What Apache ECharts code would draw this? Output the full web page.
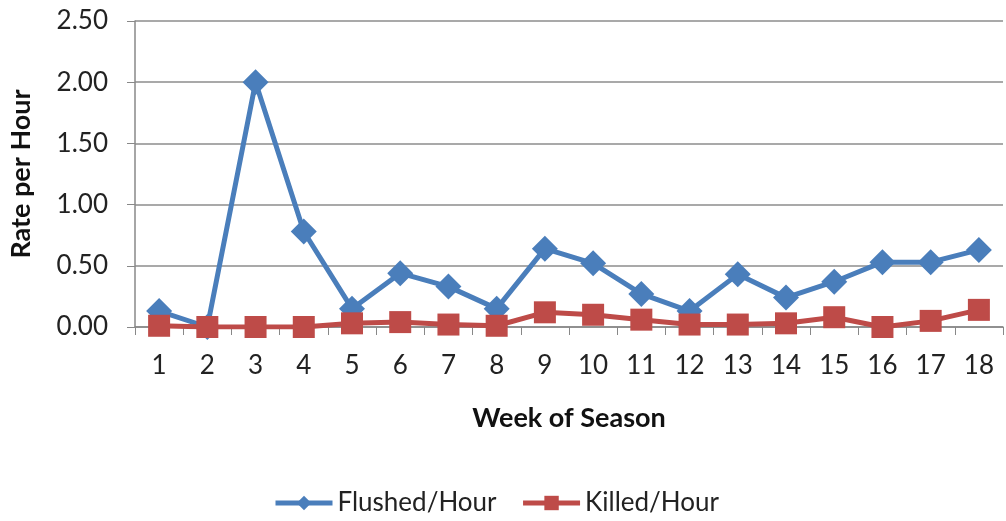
<!DOCTYPE html>
<html><head><meta charset="utf-8">
<script src="https://cdn.jsdelivr.net/npm/echarts@6/dist/echarts.min.js"></script>
<style>html,body{margin:0;padding:0;background:#fff}#c{width:1006px;height:521px}</style>
</head><body><div id="c"></div>
<script>
var weeks = ['1','2','3','4','5','6','7','8','9','10','11','12','13','14','15','16','17','18'];
var flushed = [0.13,0.00,2.00,0.78,0.15,0.44,0.33,0.15,0.64,0.52,0.27,0.13,0.43,0.24,0.37,0.53,0.53,0.63];
var killed = [0.01,0.00,0.00,0.00,0.03,0.04,0.02,0.01,0.12,0.10,0.06,0.02,0.02,0.03,0.08,0.00,0.05,0.14];
var font = 'Lato, "Open Sans", "Liberation Sans", sans-serif';
var chart = echarts.init(document.getElementById('c'), null, {renderer:'canvas'});
chart.setOption({
  animation:false,
  grid:{left:125, top:21, right:3, bottom:194, containLabel:false},
  legend:{
    top:485, left:268, itemGap:24, itemWidth:57, itemHeight:18,
    lineStyle:{width:5},
    textStyle:{fontFamily:font, fontSize:26, color:'#222'},
    data:['Flushed/Hour','Killed/Hour']
  },
  xAxis:{
    type:'category', data:weeks, boundaryGap:true,
    name:'Week of Season', nameLocation:'middle', nameGap:78,
    nameTextStyle:{fontFamily:font, fontSize:27, fontWeight:'bold', color:'#111'},
    axisLine:{lineStyle:{color:'#888', width:1.5}},
    axisTick:{show:true, length:8, lineStyle:{color:'#888'}},
    axisLabel:{fontFamily:font, fontSize:26, color:'#222', margin:26}
  },
  yAxis:{
    type:'value', min:0, max:2.5, interval:0.5,
    name:'Rate per Hour', nameLocation:'middle', nameGap:100, nameRotate:90,
    nameTextStyle:{fontFamily:font, fontSize:27, fontWeight:'bold', color:'#111'},
    axisLine:{show:true, lineStyle:{color:'#888', width:1.5}},
    axisTick:{show:true, length:8, lineStyle:{color:'#888'}},
    splitLine:{lineStyle:{color:'#8c8c8c', width:1.5}},
    axisLabel:{fontFamily:font, fontSize:26, color:'#222', margin:27,
      formatter:function(v){return v.toFixed(2);}}
  },
  series:[
    {name:'Flushed/Hour', type:'line', data:flushed, symbol:'diamond', symbolSize:26,
     lineStyle:{color:'#4a7ebb', width:5}, itemStyle:{color:'#4a7ebb'}, z:2},
    {name:'Killed/Hour', type:'line', data:killed, symbol:'rect', symbolSize:22,
     lineStyle:{color:'#be4b48', width:5}, itemStyle:{color:'#be4b48'}, z:3}
  ]
});
</script></body></html>
